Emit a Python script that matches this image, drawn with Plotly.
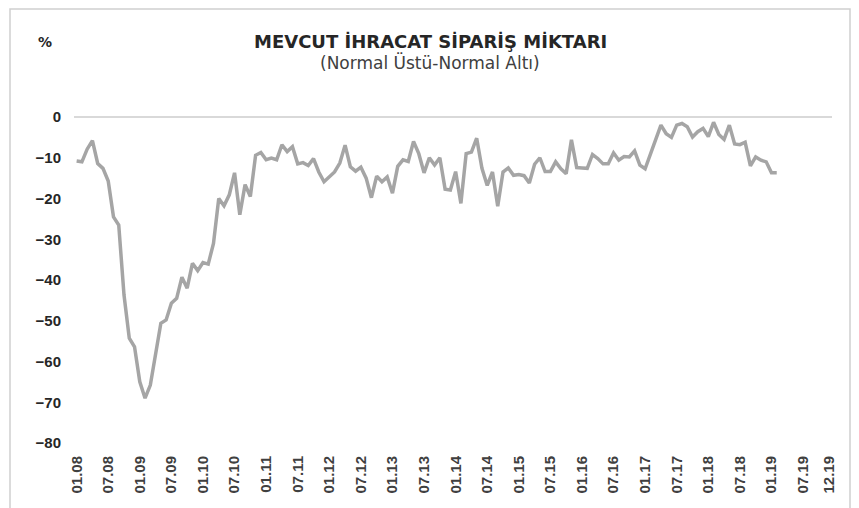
import plotly.graph_objects as go

# Monthly balance (Normal Üstü - Normal Altı), 01.08 .. 02.19
values = [
    -10.8, -11.0, -7.9, -5.8, -11.4, -12.6, -15.7, -24.5, -26.5, -43.7,
    -54.3, -56.4, -65.0, -69.0, -65.8, -57.6, -50.6, -49.8, -45.7, -44.5,
    -39.3, -42.0, -35.9, -37.7, -35.7, -36.1, -31.0, -20.0, -21.8, -19.1,
    -13.7, -24.0, -16.6, -19.5, -9.4, -8.7, -10.5, -10.1, -10.5, -6.8,
    -8.5, -7.3, -11.5, -11.2, -11.9, -10.2, -13.5, -15.9, -14.6, -13.5,
    -11.3, -6.9, -12.2, -13.3, -12.3, -15.0, -19.8, -14.5, -15.9, -14.7,
    -18.7, -12.1, -10.5, -10.9, -6.0, -9.0, -13.7, -10.0, -11.8, -10.0,
    -17.7, -17.9, -13.4, -21.2, -9.0, -8.6, -5.2, -12.6, -16.8, -13.5,
    -21.9, -13.5, -12.5, -14.3, -14.1, -14.4, -16.2, -11.6, -10.0, -13.4,
    -13.4, -11.0, -12.7, -13.9, -5.6, -12.4, -12.5, -12.6, -9.2, -10.2,
    -11.5, -11.5, -8.8, -10.6, -9.7, -9.8, -8.3, -11.8, -12.7, -9.0,
    -5.4, -2.0, -4.1, -5.0, -2.0, -1.6, -2.4, -4.9, -3.6, -2.8,
    -4.8, -1.3, -4.3, -5.5, -2.0, -6.6, -6.8, -6.2, -12.0, -9.8,
    -10.6, -11.0, -13.7, -13.7,
]
month_index = list(range(len(values)))  # 0 = 01.08

tick_positions = [0, 6, 12, 18, 24, 30, 36, 42, 48, 54, 60, 66, 72, 78,
                  84, 90, 96, 102, 108, 114, 120, 126, 132, 138, 143]
tick_labels = ["01.08", "07.08", "01.09", "07.09", "01.10", "07.10", "01.11",
               "07.11", "01.12", "07.12", "01.13", "07.13", "01.14", "07.14",
               "01.15", "07.15", "01.16", "07.16", "01.17", "07.17", "01.18",
               "07.18", "01.19", "07.19", "12.19"]
y_ticks = [0, -10, -20, -30, -40, -50, -60, -70, -80]

title_text = "MEVCUT İHRACAT SİPARİŞ MİKTARI"
subtitle_text = "(Normal Üstü-Normal Altı)"

# page body adds an 8px offset; lay out in screen pixels minus that offset
OFF = 8
W, H = 859 - OFF, 508 - OFF
ML, MT = 74 - OFF, 117 - OFF
PR, PB = 832 - OFF, 443 - OFF
MR, MB = W - PR, H - PB
pw = W - ML - MR
ph = H - MT - MB

def px_x(p):
    return (p - OFF - ML) / pw

def px_y(p):
    return 1 - (p - OFF - MT) / ph

fig = go.Figure()
fig.add_trace(go.Scatter(
    x=month_index, y=values, mode="lines",
    line=dict(color="#a5a5a5", width=3.5),
    hoverinfo="skip", showlegend=False,
))

fig.update_layout(
    width=W, height=H,
    margin=dict(l=ML, r=MR, t=MT, b=MB),
    paper_bgcolor="white", plot_bgcolor="white",
    xaxis=dict(
        range=[-0.5, 143.5], tickmode="array",
        tickvals=tick_positions, ticktext=tick_labels,
        tickangle=-90, showgrid=False, zeroline=False, showline=False,
        ticks="", ticklabelstandoff=9,
        tickfont=dict(family="Liberation Sans, Arial", size=15, color="#404040",
                      weight="bold"),
    ),
    yaxis=dict(
        range=[-80, 0], tickmode="array", tickvals=y_ticks,
        showgrid=False, zeroline=True, zerolinecolor="#d9d9d9", zerolinewidth=1.5,
        showline=False, ticks="", ticklabelstandoff=12,
        tickfont=dict(family="Liberation Sans, Arial", size=15, color="#262626",
                      weight="bold"),
    ),
    annotations=[
        dict(text="<b>" + title_text + "</b>", xref="paper", yref="paper",
             x=px_x(430), y=px_y(41), xanchor="center", yanchor="middle",
             showarrow=False,
             font=dict(family="DejaVu Sans", size=18, color="#262626")),
        dict(text=subtitle_text, xref="paper", yref="paper",
             x=px_x(430), y=px_y(62), xanchor="center", yanchor="middle",
             showarrow=False,
             font=dict(family="DejaVu Sans", size=17, color="#404040")),
        dict(text="<b>%</b>", xref="paper", yref="paper",
             x=px_x(45), y=px_y(42), xanchor="center", yanchor="middle",
             showarrow=False,
             font=dict(family="DejaVu Sans", size=14, color="#262626")),
    ],
    shapes=[
        dict(type="rect", xref="paper", yref="paper",
             x0=px_x(10), x1=px_x(850), y0=px_y(530), y1=px_y(9),
             line=dict(color="#d0d0d0", width=1.5), fillcolor="rgba(0,0,0,0)",
             layer="below"),
    ],
)

fig.write_html("out.html")
